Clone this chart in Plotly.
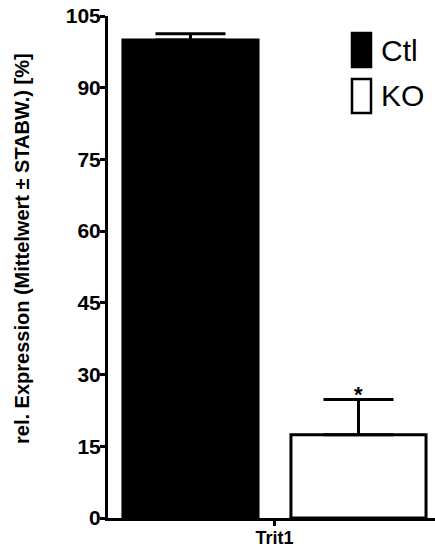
import plotly.graph_objects as go

# Relative expression of Trit1 (mean ± SD, %)
category = ["Trit1"]
groups = ["Ctl", "KO"]
means = [100.0, 17.4]
sd_upper = [1.3, 7.4]
y_ticks = [0, 15, 30, 45, 60, 75, 90, 105]
significance = "*"

fills = ["#000000", "#ffffff"]
FONT = "Liberation Sans, Arial"

fig = go.Figure()
for name, m, e, c in zip(groups, means, sd_upper, fills):
    fig.add_trace(go.Bar(
        x=category, y=[m], name=name,
        marker=dict(color=c, line=dict(color="#000000", width=3)),
        error_y=dict(type="data", symmetric=False, array=[e], arrayminus=[0],
                     color="#000000", thickness=3, width=35),
        showlegend=False,
    ))

bargap = 0.05
bargroupgap = 0.196
slot = (1 - bargap) / len(groups)
ko_center = slot / 2

fig.update_layout(
    width=435, height=549,
    margin=dict(l=108, r=0, t=16, b=31),
    paper_bgcolor="white", plot_bgcolor="white",
    barmode="group", bargap=bargap, bargroupgap=bargroupgap,
    font=dict(family=FONT, color="#000000"),
    xaxis=dict(
        type="category", range=[-0.4707, 0.4538], automargin=False,
        showline=True, linecolor="#000000", linewidth=3,
        ticks="outside", ticklen=5, tickwidth=3, tickcolor="#000000",
        ticklabelstandoff=-4,
        tickfont=dict(size=18, family=FONT, weight="bold"),
        showgrid=False, zeroline=False,
    ),
    yaxis=dict(
        range=[0, 105], tickvals=y_ticks, automargin=False,
        showline=True, linecolor="#000000", linewidth=3,
        ticks="outside", ticklen=5, tickwidth=3, tickcolor="#000000",
        ticklabelstandoff=-5,
        tickfont=dict(size=21, family=FONT, weight="bold"),
        showgrid=False, zeroline=False,
    ),
)

# y-axis title
fig.add_annotation(
    text="rel. Expression (Mittelwert ± STABW.) [%]",
    xref="paper", yref="paper", x=(22 - 108) / 327, y=(549 - 31 - 249) / 502,
    textangle=-90, showarrow=False, xanchor="center", yanchor="middle",
    font=dict(size=20, family=FONT, weight="bold"),
)

# significance marker over the KO bar
fig.add_annotation(
    text=significance, x=ko_center, y=means[1] + sd_upper[1],
    xref="x", yref="y", showarrow=False, yanchor="bottom", yshift=-10,
    font=dict(size=22, family=FONT, weight="bold"),
)

# legend drawn as tall swatches with labels
legend_rows = [(33, 67), (79, 113)]
for (top, bot), name, c in zip(legend_rows, groups, fills):
    fig.add_shape(
        type="rect", xref="paper", yref="paper",
        x0=(352 - 108) / 327, x1=(371 - 108) / 327,
        y0=(549 - 31 - bot) / 502, y1=(549 - 31 - top) / 502,
        fillcolor=c, line=dict(color="#000000", width=2.5),
    )
    fig.add_annotation(
        text=name, xref="paper", yref="paper",
        x=(379 - 108) / 327, y=(549 - 31 - (top + bot) / 2) / 502,
        xanchor="left", yanchor="middle", showarrow=False,
        font=dict(size=30, family=FONT),
    )

fig.write_html("out.html")
